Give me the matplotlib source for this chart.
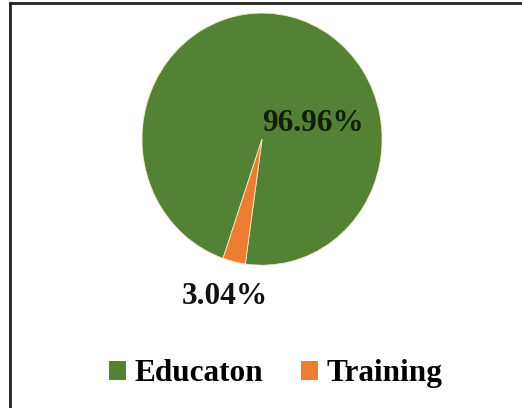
import matplotlib.pyplot as plt
from matplotlib.patches import Patch
from matplotlib.lines import Line2D

# Share of respondents by category
categories = ['Educaton', 'Training']
shares = [96.96, 3.04]
colors = ['#548235', '#ED7D31']

plt.rcParams['font.family'] = ['Liberation Serif', 'DejaVu Serif']

fig = plt.figure(figsize=(5.22, 4.08), dpi=100)
fig.patch.set_facecolor('white')

# pie sits in an axes placed by hand (slightly taller than wide)
ax = fig.add_axes([0.272, 0.350, 0.460, 0.618])
ax.pie(shares, colors=colors, startangle=262, counterclock=True,
       wedgeprops=dict(edgecolor='#f3e8c8', linewidth=0.6))
ax.set_aspect('auto')
ax.set_xlim(-1, 1)
ax.set_ylim(-1, 1)
ax.axis('off')

# percentage labels
ax.text(0.42, 0.12, f'{shares[0]:.2f}%', ha='center', va='center',
        fontsize=22.5, fontweight='bold', color='#0f1f0c')
ax.text(-0.31, -1.25, f'{shares[1]:.2f}%', ha='center', va='center',
        fontsize=22.5, fontweight='bold', color='#111111', clip_on=False)

# legend along the bottom
handles = [Patch(facecolor=c, edgecolor='none') for c in colors]
fig.legend(handles, categories, loc='center', bbox_to_anchor=(0.528, 0.084),
           ncol=2, frameon=False, prop=dict(size=22.5, weight='bold'),
           handlelength=0.55, handleheight=0.55, handletextpad=0.26,
           columnspacing=1.2)

# frame lines on top and left edges
fig.add_artist(Line2D([10 / 522, 1], [1 - 3 / 408, 1 - 3 / 408],
                      transform=fig.transFigure, color='#222222', lw=2))
fig.add_artist(Line2D([10 / 522, 10 / 522], [0, 1 - 3 / 408],
                      transform=fig.transFigure, color='#222222', lw=2))

fig.savefig('out.png', dpi=100)
